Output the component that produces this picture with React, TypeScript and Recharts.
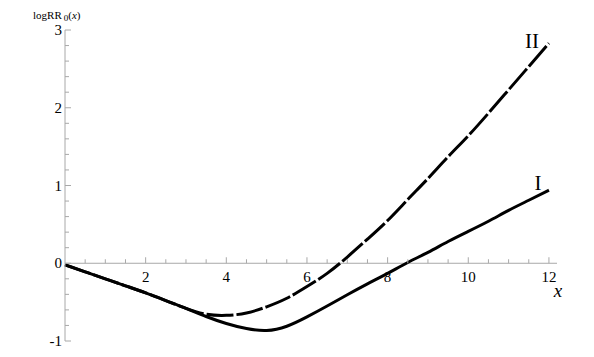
import { Line, LineChart, ReferenceLine, XAxis, YAxis } from "recharts";

// x grid the curves were read at
const xValues = [0, 0.5, 1, 1.5, 2, 2.5, 3, 3.5, 4, 4.5, 5, 5.5, 6, 6.5, 7, 7.5, 8, 8.5, 9, 9.5, 10, 10.5, 11, 11.5, 12];

// curve I (solid)
const curveI = [-0.02, -0.11, -0.2, -0.29, -0.38, -0.48, -0.58, -0.685, -0.775, -0.84, -0.865, -0.81, -0.69, -0.55, -0.405, -0.265, -0.13, 0.01, 0.14, 0.28, 0.41, 0.54, 0.68, 0.81, 0.94];

// curve II (dashed)
const curveII = [-0.02, -0.11, -0.2, -0.29, -0.38, -0.48, -0.58, -0.655, -0.67, -0.64, -0.56, -0.45, -0.3, -0.13, 0.08, 0.31, 0.55, 0.82, 1.09, 1.37, 1.64, 1.93, 2.23, 2.53, 2.83];

const xTicks = [0.5, 1, 1.5, 2, 2.5, 3, 3.5, 4, 4.5, 5, 5.5, 6, 6.5, 7, 7.5, 8, 8.5, 9, 9.5, 10, 10.5, 11, 11.5, 12];
const xLabels = [2, 4, 6, 8, 10, 12];
const yTicks = [-1, -0.8, -0.6, -0.4, -0.2, 0, 0.2, 0.4, 0.6, 0.8, 1, 1.2, 1.4, 1.6, 1.8, 2, 2.2, 2.4, 2.6, 2.8, 3];
const yLabels = [-1, 0, 1, 2, 3];

const data = xValues.map((x, i) => ({ x, I: curveI[i], II: curveII[i] }));

const W = 594;
const H = 357;
const TOP = 30;
const PLOT_H = 311;
const Y_MIN = -1;
const Y_MAX = 3;
// distance from plot bottom up to the y = 0 line
const ZERO_SHIFT = (PLOT_H * (0 - Y_MIN)) / (Y_MAX - Y_MIN);

const AXIS = "#a8a8a8";
const FONT = "Liberation Serif";

function XTick(props: any) {
  const { x, y, payload } = props;
  const v = payload.value;
  const major = xLabels.includes(v);
  const y0 = y - ZERO_SHIFT;
  return (
    <g>
      <line x1={x} x2={x} y1={y0} y2={y0 - (major ? 6 : 4)} stroke={AXIS} />
      {major ? (
        <text x={x} y={y0 + 19} textAnchor="middle" fontSize={15} fontFamily={FONT} fill="#000">
          {v}
        </text>
      ) : null}
    </g>
  );
}

function YTick(props: any) {
  const { x, y, payload } = props;
  const v = payload.value;
  const major = yLabels.includes(v);
  return (
    <g>
      <line x1={x} x2={x + (major ? 6 : 4)} y1={y} y2={y} stroke={AXIS} />
      {major ? (
        <text x={x - 3} y={y + 5} textAnchor="end" fontSize={15} fontFamily={FONT} fill="#000">
          {v}
        </text>
      ) : null}
    </g>
  );
}

function YTitle(props: any) {
  const vb = props.viewBox || { x: 0, y: TOP };
  return (
    <text x={vb.x + 33} y={vb.y - 11} fontSize={11} fontFamily={FONT} fill="#000">
      logRR
      <tspan fontSize={9} dx={2} dy={2}>0</tspan>
      <tspan dy={-2}>(</tspan>
      <tspan fontStyle="italic">x</tspan>
      <tspan>)</tspan>
    </text>
  );
}

function XTitle(props: any) {
  const vb = props.viewBox || { x: 65, y: TOP + PLOT_H, width: 492 };
  return (
    <text x={vb.x + vb.width + 1} y={vb.y - ZERO_SHIFT + 34} textAnchor="middle" fontSize={19} fontStyle="italic" fontFamily={FONT} fill="#000">
      x
    </text>
  );
}

function endLabel(name: string, dx: number, dy: number) {
  return (props: any) => {
    if (props.index !== xValues.length - 1) return null;
    return (
      <text key={name} x={props.x + dx} y={props.y + dy} textAnchor="middle" fontSize={21} fontFamily={FONT} fill="#000">
        {name}
      </text>
    );
  };
}

export default function App() {
  return (
    <div style={{ position: "absolute", left: 0, top: 0, width: W, height: H, background: "#fff" }}>
      <LineChart width={W} height={H} data={data} margin={{ top: TOP, right: 37, bottom: 1, left: 0 }}>
        <XAxis
          type="number"
          dataKey="x"
          domain={[0, 12.2]}
          ticks={xTicks}
          interval={0}
          height={15}
          axisLine={false}
          tickLine={false}
          tickSize={0}
          tickMargin={0}
          tick={<XTick />}
          label={<XTitle />}
        />
        <YAxis
          type="number"
          domain={[Y_MIN, Y_MAX]}
          ticks={yTicks}
          interval={0}
          width={65}
          axisLine={{ stroke: AXIS }}
          tickLine={false}
          tickSize={0}
          tickMargin={0}
          tick={<YTick />}
          label={<YTitle />}
        />
        <ReferenceLine y={0} stroke={AXIS} />
        <Line
          type="natural"
          dataKey="I"
          stroke="#000"
          strokeWidth={3}
          dot={false}
          isAnimationActive={false}
          label={endLabel("I", -11, 0)}
        />
        <Line
          type="natural"
          dataKey="II"
          stroke="#000"
          strokeWidth={3}
          strokeDasharray="27 3"
          dot={false}
          isAnimationActive={false}
          label={endLabel("II", -17, 5)}
        />
      </LineChart>
    </div>
  );
}
